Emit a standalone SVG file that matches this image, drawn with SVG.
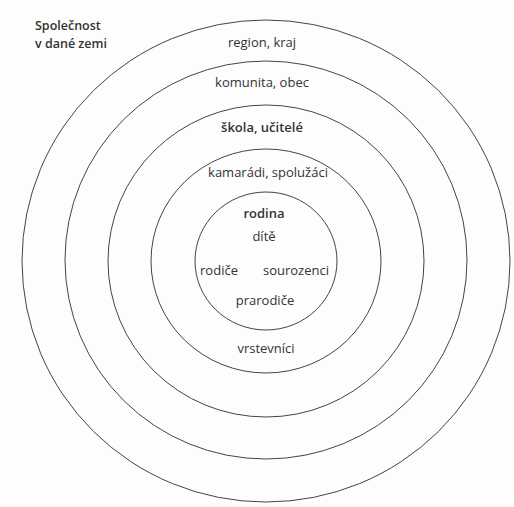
<svg xmlns="http://www.w3.org/2000/svg" width="514" height="507" viewBox="0 0 514 507">
<style>
.ring{fill:none;stroke:#444;stroke-width:1}
text{font-family:"Open Sans","Noto Sans",sans-serif;font-size:13px;fill:#333;text-anchor:middle}
.b{font-weight:600}
.l{text-anchor:start;font-size:12.5px}
</style>
<rect width="514" height="507" fill="#fdfdfd"/>
<g id="ring-spolecnost">
<ellipse class="ring" cx="266" cy="261" rx="244" ry="241"/>
<text class="b l" x="35" y="30">Společnost</text>
<text class="b l" x="35" y="48">v dané zemi</text>
</g>
<g id="ring-region">
<ellipse class="ring" cx="266" cy="260" rx="201" ry="199"/>
<text x="262" y="47">region, kraj</text>
</g>
<g id="ring-komunita">
<ellipse class="ring" cx="266" cy="261" rx="158" ry="156"/>
<text x="262" y="87">komunita, obec</text>
</g>
<g id="ring-skola">
<ellipse class="ring" cx="266" cy="261" rx="115" ry="112"/>
<text class="b" x="262" y="132">škola, učitelé</text>
</g>
<g id="ring-kamaradi">
<ellipse class="ring" cx="266" cy="261" rx="71" ry="69"/>
<text x="268" y="177">kamarádi, spolužáci</text>
<text x="266" y="353">vrstevníci</text>
</g>
<g id="rodina">
<text class="b" x="264" y="218">rodina</text>
<text x="264" y="241">dítě</text>
<text x="219" y="275">rodiče</text>
<text x="296" y="275">sourozenci</text>
<text x="265" y="305">prarodiče</text>
</g>
</svg>
